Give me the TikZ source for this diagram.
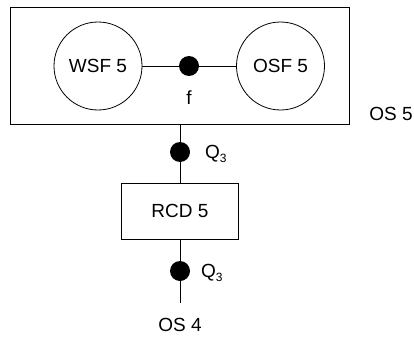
\documentclass[tikz,border=0pt]{standalone}
\usepackage{fontspec}
\setmainfont{Liberation Sans}
\newcommand{\sub}[1]{\raisebox{-0.4ex}{\fontsize{12}{12}\selectfont #1}}
\begin{document}
\begin{tikzpicture}[x=1pt,y=-1pt,
  every node/.style={font=\fontsize{19}{22}\selectfont, inner sep=0pt},
  wire/.style={draw, line width=0.8pt},
  frame/.style={draw, line width=0.8pt},
  unit/.style={circle, draw, line width=0.8pt, minimum size=88pt},
  joint/.style={circle, fill=black, minimum size=20pt},
  block/.style={rectangle, draw, line width=0.8pt, minimum width=117pt, minimum height=56pt}]
  \useasboundingbox (0,0) rectangle (414,337);
  % outer system box
  \node[frame, rectangle, minimum width=339pt, minimum height=117pt] (os5box) at (179.5,65.5) {};
  \node (os5) at (391,114) {OS 5};
  % subsystems and their joint
  \node[unit] (wsf) at (98,66) {WSF 5};
  \node[unit] (osf) at (280.5,66) {OSF 5};
  \node[joint] (f) at (189,66) {};
  \node (flab) at (189,98) {f};
  \draw[wire] (wsf) -- (f) -- (osf);
  % lower chain
  \coordinate (top) at (180,124);
  \node[joint] (q1) at (180,152) {};
  \node[anchor=west] (q1lab) at (205,154) {Q\sub{3}};
  \node[block] (rcd) at (180,211) {RCD 5};
  \node[joint] (q2) at (180,271) {};
  \node[anchor=west] (q2lab) at (201,273) {Q\sub{3}};
  \coordinate (bot) at (180,303);
  \node (os4) at (180,325) {OS 4};
  \draw[wire] (top) -- (q1) -- (rcd) -- (q2) -- (bot);
\end{tikzpicture}
\end{document}
